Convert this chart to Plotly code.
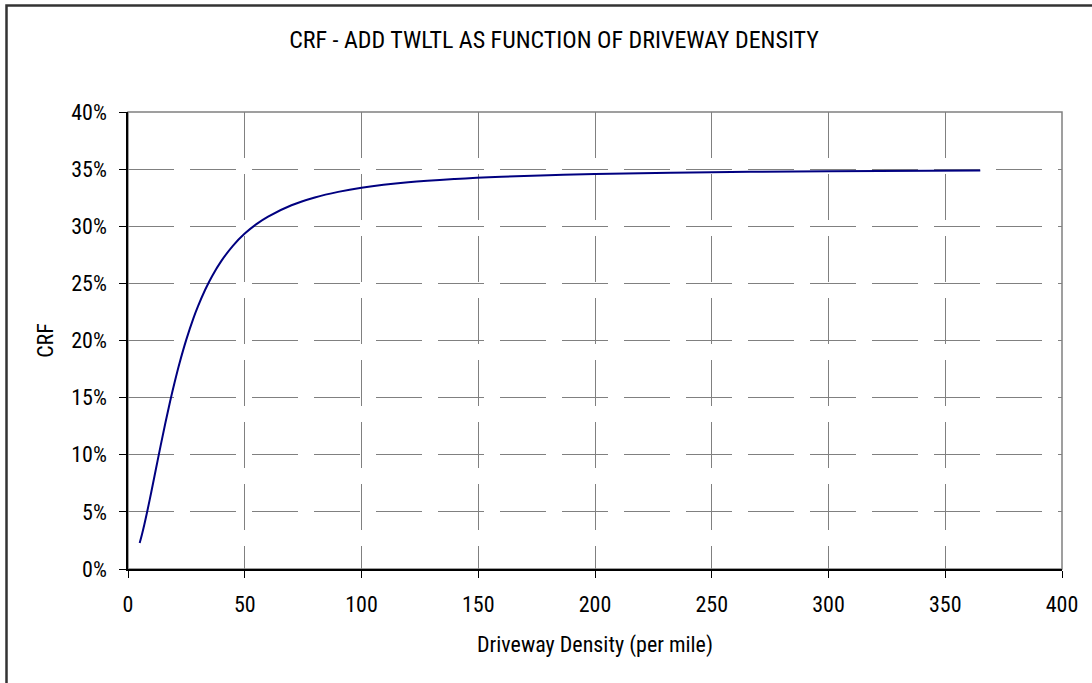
import plotly.graph_objects as go

# Driveway density (per mile) and CRF values
density = [5, 6, 7, 8, 10, 12, 14, 16, 18, 20, 22, 25, 28, 30, 33, 36, 40, 45, 50,
           55, 60, 70, 80, 90, 100, 120, 140, 160, 180, 200, 250, 300, 365]
crf = [0.0228, 0.0305, 0.0390, 0.0481, 0.0676, 0.0879, 0.1082, 0.1278, 0.1464,
       0.1637, 0.1797, 0.2010, 0.2194, 0.2301, 0.2442, 0.2563, 0.2697, 0.2831,
       0.2936, 0.3019, 0.3085, 0.3184, 0.3252, 0.3301, 0.3337, 0.3385, 0.3414,
       0.3434, 0.3447, 0.3457, 0.3473, 0.3481, 0.3487]

x_ticks = [0, 50, 100, 150, 200, 250, 300, 350, 400]
y_ticks = [0, 0.05, 0.10, 0.15, 0.20, 0.25, 0.30, 0.35, 0.40]
y_tick_labels = ["0%", "5%", "10%", "15%", "20%", "25%", "30%", "35%", "40%"]

FONT = "Roboto Condensed, Liberation Sans, Arial, sans-serif"
FS = 22

fig = go.Figure()
fig.add_trace(go.Scatter(
    x=density, y=crf, mode="lines", line=dict(color="#000080", width=2, shape="spline"),
    showlegend=False,
))

L, R, T, B = 128, 30, 112, 114
W, H = 1092, 683
pw = W - L - R
ph = H - T - B

def px_x(p):
    return (p - L) / pw

def px_y(p):
    return (H - B - p) / ph

fig.update_layout(
    width=W, height=H,
    margin=dict(l=L, r=R, t=T, b=B),
    paper_bgcolor="white", plot_bgcolor="white",
    font=dict(family=FONT, size=FS, color="#000000"),
    title=dict(text="CRF - ADD TWLTL AS FUNCTION OF DRIVEWAY DENSITY",
               x=554 / W, xanchor="center", y=1 - 40 / H, yanchor="middle",
               font=dict(family=FONT, size=24, color="#000000")),
    xaxis=dict(
        range=[0, 400], tickvals=x_ticks, ticktext=[str(v) for v in x_ticks],
        showgrid=True, gridcolor="#808080", gridwidth=1, griddash="46px,16px",
        showline=True, linecolor="#000000", linewidth=1.5,
        ticks="outside", ticklen=7, tickcolor="#000000", tickwidth=1,
        ticklabelstandoff=8,
        zeroline=False,
        title=dict(text="Driveway Density (per mile)", standoff=20,
                   font=dict(family=FONT, size=FS)),
        tickfont=dict(family=FONT, size=FS),
    ),
    yaxis=dict(
        range=[0, 0.40], tickvals=y_ticks, ticktext=y_tick_labels,
        showgrid=True, gridcolor="#808080", gridwidth=1, griddash="46px,16px",
        showline=True, linecolor="#000000", linewidth=1.5,
        ticks="outside", ticklen=7, tickcolor="#000000", tickwidth=1,
        ticklabelstandoff=8,
        zeroline=False,
        title=dict(text="CRF", standoff=11, font=dict(family=FONT, size=FS)),
        tickfont=dict(family=FONT, size=FS),
    ),
    shapes=[
        dict(type="rect", xref="paper", yref="paper", x0=0, x1=1, y0=0, y1=1,
             line=dict(color="#808080", width=1.5), layer="below"),
        dict(type="rect", xref="paper", yref="paper",
             x0=px_x(6.5), x1=px_x(1110), y0=px_y(700), y1=px_y(5.5),
             line=dict(color="#333333", width=2.5)),
    ],
)

fig.write_html("out.html")
